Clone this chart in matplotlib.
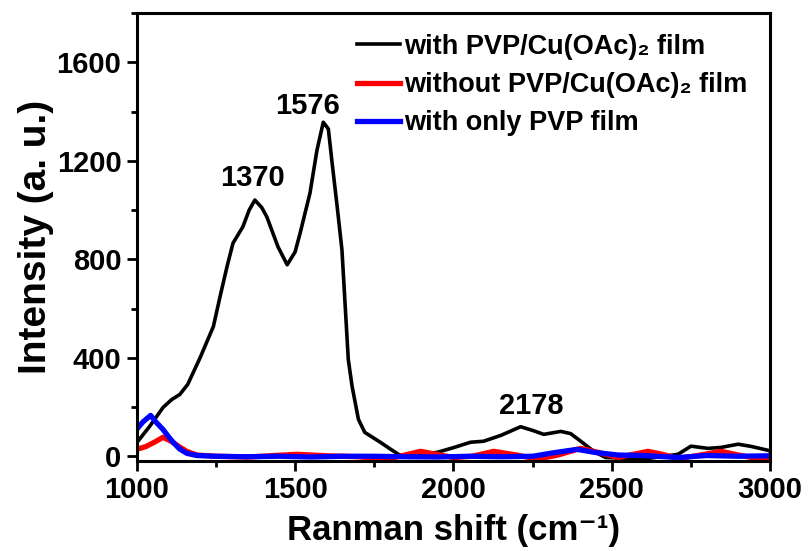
import matplotlib
matplotlib.use("Agg")
import matplotlib.pyplot as plt
from matplotlib.ticker import MultipleLocator

plt.rcParams['font.family'] = ['Liberation Sans', 'DejaVu Sans']
plt.rcParams['font.weight'] = 'bold'

# black: with PVP/Cu(OAc)2 film
x_black = [1000, 1040, 1083, 1110, 1136, 1161, 1200, 1242, 1263, 1285, 1304, 1335, 1355, 1373,
           1395, 1411, 1446, 1475, 1500, 1516, 1547, 1569, 1589, 1605, 1617, 1633, 1648,
           1668, 1680, 1700, 1720, 1769, 1800, 1830, 1880, 1949, 2000, 2054, 2095, 2150,
           2212, 2250, 2285, 2339, 2370, 2402, 2443, 2480, 2550, 2620, 2709, 2750, 2804,
           2845, 2899, 2940, 2994, 3000]
y_black = [55, 120, 198, 230, 251, 292, 400, 527, 648, 770, 866, 932, 1000, 1041,
           1010, 972, 851, 778, 830, 907, 1069, 1243, 1357, 1330, 1191, 1013, 838,
           393, 284, 150, 97, 57, 30, 5, 5, 16, 35, 57, 61, 85,
           120, 105, 89, 101, 92, 61, 20, -5, -8, -8, 8, 41, 32,
           36, 49, 40, 24, 20]

# red: without PVP/Cu(OAc)2 film
x_red = [1000, 1030, 1060, 1083, 1110, 1135, 1158, 1190, 1250, 1350, 1420, 1506, 1600,
         1700, 1791, 1896, 2000, 2060, 2127, 2200, 2265, 2330, 2402, 2460, 2519, 2614,
         2660, 2709, 2780, 2845, 2900, 2962, 3000]
y_red = [28, 40, 60, 77, 60, 38, 20, 5, 0, -3, 2, 8, 2,
         -2, -12, 20, -5, 0, 20, 5, -12, 5, 32, 15, -5, 20,
         8, -10, 5, 20, 5, -10, -5]

# blue: with only PVP film
x_blue = [1000, 1020, 1044, 1060, 1083, 1100, 1115, 1135, 1158, 1190, 1250, 1350, 1450,
          1550, 1650, 1750, 1850, 1950, 2050, 2150, 2250, 2320, 2390, 2450, 2520, 2600,
          2709, 2800, 2900, 3000]
y_blue = [110, 140, 166, 140, 109, 80, 57, 30, 12, 3, 0, -2, 0,
          -3, 0, 0, -2, -3, 0, -2, 0, 15, 28, 15, 5, 3,
          -5, 3, 0, 2]

series = [
    (x_black, y_black, 'k', 2.6, 'with PVP/Cu(OAc)₂ film'),
    (x_red, y_red, '#ff0000', 3.8, 'without PVP/Cu(OAc)₂ film'),
    (x_blue, y_blue, '#0000ff', 3.8, 'with only PVP film'),
]

peaks = ['1370', '1576', '2178']
peak_pos = [(1365, 1130), (1540, 1425), (2245, 205)]

fig = plt.figure(figsize=(8.09, 5.51), dpi=100)
ax = fig.add_axes([0.169, 0.163, 0.783, 0.813])

for xs, ys, c, lw, lab in series:
    ax.plot(xs, ys, color=c, lw=lw, label=lab)

for txt, (px, py) in zip(peaks, peak_pos):
    ax.text(px, py, txt, fontsize=21, fontweight='bold', ha='center', va='center')

ax.set_xlim(1000, 3000)
ax.set_ylim(-20, 1800)
ax.xaxis.set_major_locator(MultipleLocator(500))
ax.xaxis.set_minor_locator(MultipleLocator(250))
ax.yaxis.set_major_locator(MultipleLocator(400))
ax.yaxis.set_minor_locator(MultipleLocator(200))
ax.tick_params(which='both', direction='out', width=2, labelsize=21, top=False, right=False)
ax.tick_params(which='major', length=7, pad=4)
ax.tick_params(which='minor', length=4)
for s in ax.spines.values():
    s.set_linewidth(2.2)

ax.set_xlabel('Ranman shift (cm⁻¹)', fontsize=25, fontweight='bold', labelpad=7)
ax.set_ylabel('Intensity (a. u.)', fontsize=28, fontweight='bold', labelpad=2)

leg = ax.legend(loc='upper right', frameon=False, fontsize=19.5, handlelength=1.6,
                handletextpad=0.15, labelspacing=0.45, borderaxespad=0.2,
                bbox_to_anchor=(0.99, 0.99))
for t in leg.get_texts():
    t.set_fontweight('bold')

fig.savefig('out.png', dpi=100)
